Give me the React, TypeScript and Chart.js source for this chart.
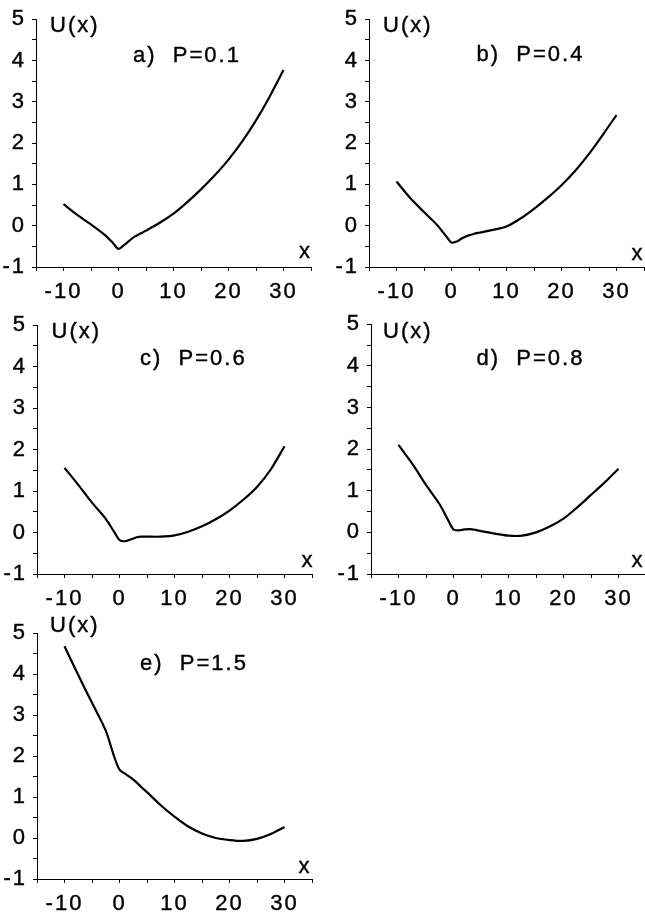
import React, { useEffect, useRef } from 'react';
import { Chart, registerables } from 'chart.js';

Chart.register(...registerables);

// ---- data ----
const xValues = [-10, -7.5, -5, -2.5, -1, 0, 1, 2, 3, 4, 5, 7.5, 10, 12.5, 15, 17.5, 20, 22.5, 25, 27.5, 30];

const uP01 = [0.52, 0.26, 0.03, -0.22, -0.42, -0.56, -0.47, -0.36, -0.26, -0.19, -0.12, 0.07, 0.29, 0.57, 0.88, 1.22, 1.6, 2.04, 2.55, 3.13, 3.77];
const uP04 = [1.07, 0.67, 0.33, 0.0, -0.25, -0.41, -0.38, -0.3, -0.24, -0.2, -0.17, -0.1, -0.02, 0.17, 0.41, 0.68, 0.98, 1.33, 1.74, 2.2, 2.68];
const uP06 = [1.56, 1.15, 0.72, 0.33, 0.02, -0.18, -0.21, -0.17, -0.12, -0.1, -0.1, -0.1, -0.07, 0.02, 0.15, 0.32, 0.53, 0.79, 1.1, 1.52, 2.08];
const uP08 = [2.1, 1.65, 1.14, 0.67, 0.3, 0.07, 0.05, 0.07, 0.08, 0.06, 0.03, -0.03, -0.08, -0.08, 0.0, 0.14, 0.33, 0.6, 0.9, 1.2, 1.53];
const uP15 = [4.68, 3.98, 3.3, 2.62, 2.0, 1.67, 1.57, 1.48, 1.37, 1.24, 1.12, 0.8, 0.52, 0.28, 0.11, 0.0, -0.05, -0.07, -0.02, 0.1, 0.27];

const panelTitles = ['a)  P=0.1', 'b)  P=0.4', 'c)  P=0.6', 'd)  P=0.8', 'e)  P=1.5'];
const yAxisTitle = 'U(x)';
const xAxisTitle = 'x';

const xMin = -15;
const xMax = 35;
const xStep = 5;
const yMin = -1;
const yMax = 5;
const yStep = 0.5;

// ---- layout (chart area in page pixels, text anchors) ----
type PanelLayout = {
  left: number; top: number; width: number; height: number;
  uPos: [number, number]; titlePos: [number, number]; xPos: [number, number];
};

const layouts: PanelLayout[] = [
  { left: 36, top: 14, width: 276, height: 253, uPos: [50, 32], titlePos: [133, 61.5], xPos: [299, 258] },
  { left: 369, top: 14, width: 276, height: 253, uPos: [383, 31.5], titlePos: [476.5, 60.5], xPos: [631.5, 260] },
  { left: 37, top: 320, width: 275, height: 254, uPos: [51.5, 338], titlePos: [140, 365], xPos: [301.5, 566.5] },
  { left: 371, top: 319, width: 275, height: 255, uPos: [383, 338], titlePos: [476.5, 365], xPos: [631.5, 566.5] },
  { left: 37, top: 628, width: 275, height: 251, uPos: [50, 631.5], titlePos: [140, 670], xPos: [298.5, 873] },
];

const seriesList = [uP01, uP04, uP06, uP08, uP15];

const FONT_FAMILY = '"Liberation Sans", Arial, Helvetica, sans-serif';
const FONT_SIZE = 22;
const TEXT_STROKE = 0.4;
const Y_AXIS_W = 37;
const X_AXIS_H = 33;
const PAD_TOP = 14;
const CANVAS_W = 320;

function Panel({ values, title, layout }: { values: number[]; title: string; layout: PanelLayout }) {
  const ref = useRef<HTMLCanvasElement | null>(null);
  const canvasLeft = layout.left - Y_AXIS_W;
  const canvasTop = layout.top - PAD_TOP;
  const canvasH = layout.height + PAD_TOP + X_AXIS_H;

  useEffect(() => {
    if (!ref.current) return;
    const textPlugin = {
      id: 'panelText',
      beforeDraw(chart: any) {
        chart.ctx.letterSpacing = '2px';
      },
      afterDraw(chart: any) {
        const ctx = chart.ctx as CanvasRenderingContext2D;
        ctx.save();
        (ctx as any).letterSpacing = '2px';
        ctx.font = `${FONT_SIZE}px ${FONT_FAMILY}`;
        ctx.fillStyle = '#000';
        ctx.strokeStyle = '#000';
        ctx.lineWidth = TEXT_STROKE;
        ctx.textAlign = 'left';
        ctx.textBaseline = 'alphabetic';
        const items: [string, [number, number]][] = [
          [yAxisTitle, layout.uPos],
          [title, layout.titlePos],
          [xAxisTitle, layout.xPos],
        ];
        for (const [t, p] of items) {
          ctx.fillText(t, p[0] - canvasLeft, p[1] - canvasTop);
          ctx.strokeText(t, p[0] - canvasLeft, p[1] - canvasTop);
        }
        ctx.restore();
      },
    };

    const chart = new Chart(ref.current, {
      type: 'line',
      data: {
        datasets: [
          {
            data: xValues.map((x, i) => ({ x, y: values[i] })),
            borderColor: '#000',
            borderWidth: 2.2,
            pointRadius: 0,
            fill: false,
            tension: 0.3,
          },
        ],
      },
      options: {
        animation: false,
        responsive: false,
        devicePixelRatio: 1,
        events: [],
        layout: {
          padding: { left: 0, top: PAD_TOP, right: CANVAS_W - Y_AXIS_W - layout.width, bottom: 0 },
        },
        plugins: { legend: { display: false }, tooltip: { enabled: false }, title: { display: false } },
        scales: {
          x: {
            type: 'linear',
            min: xMin,
            max: xMax,
            afterFit: (scale: any) => { scale.height = X_AXIS_H; },
            ticks: {
              stepSize: xStep,
              autoSkip: false,
              maxRotation: 0,
              padding: 8,
              color: '#000',
              textStrokeColor: '#000',
              textStrokeWidth: TEXT_STROKE,
              font: { family: FONT_FAMILY, size: FONT_SIZE },
              callback: (v: any) => (Number(v) % 10 === 0 && Number(v) >= -10 && Number(v) <= 30 ? String(v) : ''),
            },
            grid: { display: true, drawOnChartArea: false, drawTicks: true, tickLength: 4, tickColor: '#000', lineWidth: 1 },
            border: { display: true, color: '#000', width: 1 },
          },
          y: {
            type: 'linear',
            min: yMin,
            max: yMax,
            afterFit: (scale: any) => { scale.width = Y_AXIS_W; },
            ticks: {
              stepSize: yStep,
              autoSkip: false,
              padding: 6,
              color: '#000',
              textStrokeColor: '#000',
              textStrokeWidth: TEXT_STROKE,
              font: { family: FONT_FAMILY, size: FONT_SIZE },
              callback: (v: any) => (Number.isInteger(Number(v)) ? String(v) : ''),
            },
            grid: { display: true, drawOnChartArea: false, drawTicks: true, tickLength: 4, tickColor: '#000', lineWidth: 1 },
            border: { display: true, color: '#000', width: 1 },
          },
        },
      },
      plugins: [textPlugin],
    } as any);
    return () => chart.destroy();
  }, [values, title, layout]);

  return (
    <canvas
      ref={ref}
      width={CANVAS_W}
      height={canvasH}
      style={{ position: 'absolute', left: canvasLeft, top: canvasTop, width: CANVAS_W, height: canvasH }}
    />
  );
}

export default function App() {
  return (
    <div style={{ position: 'fixed', left: 0, top: 0, width: 645, height: 912, overflow: 'hidden', background: '#fff' }}>
      {layouts.map((l, i) => (
        <Panel key={i} values={seriesList[i]} title={panelTitles[i]} layout={l} />
      ))}
    </div>
  );
}
